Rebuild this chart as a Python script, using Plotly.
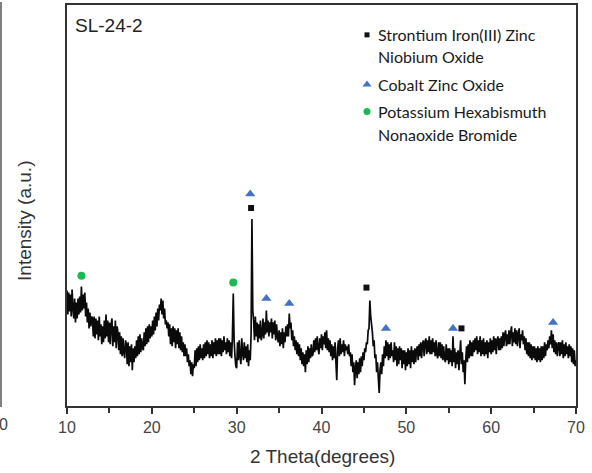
import numpy as np
import plotly.graph_objects as go

# XRD scan of sample SL-24-2, 2-theta from 10 to 70 deg in 0.1 deg steps
two_theta_start = 10.0
two_theta_step = 0.1
intensity = [
    116, 92, 114, 95, 112, 90, 117, 98, 88, 108,      # 10
    84, 104, 88, 108, 92, 110, 94, 120, 96, 112,      # 11
    98, 114, 90, 104, 84, 98, 78, 94, 80, 90,         # 12
    88, 70, 90, 68, 88, 72, 86, 66, 90, 70,           # 13
    82, 62, 80, 64, 86, 68, 92, 70, 86, 64,           # 14
    84, 62, 82, 88, 60, 80, 64, 86, 58, 80,           # 15
    74, 56, 74, 52, 70, 50, 68, 54, 48, 66,           # 16
    62, 42, 64, 40, 60, 44, 62, 36, 58, 44,           # 17
    60, 48, 66, 50, 70, 52, 72, 54, 68, 58,           # 18
    56, 74, 60, 78, 62, 80, 64, 82, 68, 80,           # 19
    70, 86, 72, 90, 76, 94, 80, 98, 86, 102,          # 20
    96, 108, 92, 106, 88, 98, 82, 86, 78, 84,         # 21
    70, 82, 62, 78, 60, 80, 64, 78, 58, 76,           # 22
    62, 78, 58, 74, 56, 70, 54, 64, 50, 62,           # 23
    50, 58, 44, 52, 40, 46, 32, 44, 30, 42,           # 24
    38, 56, 40, 58, 44, 60, 46, 62, 48, 58,           # 25
    46, 62, 48, 64, 50, 66, 52, 64, 48, 62,           # 26
    50, 66, 48, 64, 52, 68, 50, 66, 52, 68,           # 27
    52, 68, 50, 66, 54, 70, 56, 64, 52, 68,           # 28
    54, 66, 50, 64, 48, 70, 113, 66, 50, 40,          # 29
    38, 64, 46, 66, 50, 42, 68, 54, 46, 64,           # 30
    48, 60, 44, 62, 40, 56, 46, 72, 188, 96,          # 31
    86, 66, 90, 70, 84, 64, 82, 68, 86, 66,           # 32
    72, 88, 68, 84, 72, 96, 74, 86, 70, 84,           # 33
    74, 88, 68, 84, 72, 86, 66, 82, 70, 64,           # 34
    76, 60, 74, 62, 78, 58, 74, 64, 80, 70,           # 35
    82, 70, 93, 78, 84, 66, 76, 60, 70, 56,           # 36
    66, 52, 64, 50, 62, 46, 58, 42, 54, 40,           # 37
    52, 34, 56, 42, 60, 44, 58, 48, 62, 50,           # 38
    52, 66, 54, 68, 56, 70, 58, 52, 68, 58,           # 39
    72, 56, 70, 62, 74, 58, 76, 56, 68, 54,           # 40
    66, 50, 62, 46, 60, 48, 64, 44, 26, 58,           # 41
    66, 50, 68, 52, 62, 54, 66, 50, 62, 56,           # 42
    60, 52, 62, 50, 54, 40, 52, 34, 44, 21,           # 43
    38, 46, 28, 44, 32, 48, 34, 50, 40, 54,           # 44
    46, 58, 54, 64, 62, 76, 78, 106, 90, 82,          # 45
    74, 60, 66, 48, 52, 34, 44, 28, 13, 36,           # 46
    44, 32, 52, 40, 60, 48, 66, 50, 64, 46,           # 47
    62, 48, 64, 50, 56, 44, 64, 46, 60, 40,           # 48
    58, 42, 60, 46, 58, 38, 56, 42, 56, 36,           # 49
    54, 40, 58, 42, 56, 38, 60, 44, 56, 42,           # 50
    58, 44, 56, 60, 46, 62, 50, 64, 48, 62,           # 51
    66, 50, 64, 68, 52, 66, 54, 70, 52, 66,           # 52
    52, 68, 54, 64, 50, 66, 52, 48, 64, 50,           # 53
    64, 48, 62, 46, 60, 48, 44, 62, 46, 58,           # 54
    42, 58, 44, 56, 40, 70, 44, 58, 38, 54,           # 55
    42, 56, 36, 52, 66, 42, 54, 34, 46, 22,           # 56
    46, 60, 44, 62, 48, 66, 50, 64, 50, 66,           # 57
    54, 68, 56, 70, 52, 66, 54, 70, 50, 66,           # 58
    52, 68, 50, 64, 52, 66, 48, 64, 54, 68,           # 59
    52, 66, 54, 70, 56, 68, 52, 66, 70, 56,           # 60
    68, 56, 70, 58, 74, 60, 72, 76, 60, 72,           # 61
    62, 76, 62, 74, 80, 60, 74, 64, 78, 62,           # 62
    76, 60, 72, 78, 58, 72, 66, 76, 62, 70,           # 63
    56, 68, 52, 64, 50, 64, 48, 62, 46, 60,           # 64
    48, 60, 46, 58, 44, 60, 46, 58, 44, 60,           # 65
    46, 60, 48, 64, 50, 62, 56, 66, 58, 70,           # 66
    62, 76, 58, 72, 54, 66, 52, 64, 50, 62,           # 67
    64, 50, 64, 52, 66, 48, 62, 50, 64, 52,           # 68
    60, 48, 62, 50, 60, 44, 58, 42, 56, 40,           # 69
    46,                                                # 70
]
two_theta = two_theta_start + two_theta_step * np.arange(len(intensity))

# Phase identification markers (peak position, marker height)
srfezn_nb_oxide_pos = [31.7, 45.3, 56.5]
srfezn_nb_oxide_h = [199, 119, 78]
cobalt_zinc_oxide_pos = [31.6, 33.5, 36.2, 47.6, 55.5, 67.3]
cobalt_zinc_oxide_h = [213, 108, 103, 78, 78, 84]
k_bi6_bromide_pos = [11.7, 29.6]
k_bi6_bromide_h = [131, 124]

phase_names = [
    ["Strontium Iron(III) Zinc", "Niobium Oxide"],
    ["Cobalt Zinc Oxide"],
    ["Potassium Hexabismuth", "Nonaoxide Bromide"],
]
phase_symbols = ["square", "triangle-up", "circle"]
phase_colors = ["#111111", "#4472C4", "#1DB954"]
phase_sizes = [6, 9, 8]

x_ticks = [10, 20, 30, 40, 50, 60, 70]

W, H = 592, 473
L, R, T, B = 67, 16, 3, 67
pw, ph = W - L - R, H - T - B


def px(xp):
    return (xp - L) / pw


def py(yp):
    return (H - B - yp) / ph


fig = go.Figure()

fig.add_trace(go.Scatter(
    x=two_theta, y=intensity, mode="lines",
    line=dict(color="#0a0a0a", width=1.7, simplify=False),
    showlegend=False, hoverinfo="skip",
))

for pos, h, sym, col, sz in [
    (srfezn_nb_oxide_pos, srfezn_nb_oxide_h, phase_symbols[0], phase_colors[0], phase_sizes[0]),
    (cobalt_zinc_oxide_pos, cobalt_zinc_oxide_h, phase_symbols[1], phase_colors[1], phase_sizes[1]),
    (k_bi6_bromide_pos, k_bi6_bromide_h, phase_symbols[2], phase_colors[2], phase_sizes[2]),
]:
    fig.add_trace(go.Scatter(
        x=pos, y=h, mode="markers",
        marker=dict(symbol=sym, color=col, size=sz, line=dict(width=0)),
        showlegend=False, hoverinfo="skip",
    ))

# Legend keys drawn on an overlay axis that spans the plot area in [0, 1]
key_rows = [0, 1, 2]
key_y = [py(33), py(83), py(110)]
for i in key_rows:
    fig.add_trace(go.Scatter(
        x=[px(367)], y=[key_y[i]], mode="markers", xaxis="x2", yaxis="y2",
        marker=dict(symbol=phase_symbols[i], color=phase_colors[i],
                    size=phase_sizes[i] - 1, line=dict(width=0)),
        showlegend=False, hoverinfo="skip",
    ))

annotations = []
line_y = [[33, 55], [83], [110, 133]]
for names, ys in zip(phase_names, line_y):
    for name, yy in zip(names, ys):
        annotations.append(dict(
            x=px(376), y=py(yy), xref="paper", yref="paper", text=name,
            showarrow=False, xanchor="left", yanchor="middle",
            font=dict(family="Lato", size=16, color="#1a1a1a"),
        ))

annotations.append(dict(
    x=px(73), y=py(24), xref="paper", yref="paper", text="SL-24-2",
    showarrow=False, xanchor="left", yanchor="middle",
    font=dict(family="Liberation Sans, Arial", size=19, color="#222222"),
))
annotations.append(dict(
    x=px(25), y=py(220), xref="paper", yref="paper", text="Intensity (a.u.)",
    showarrow=False, textangle=-90, xanchor="center", yanchor="middle",
    font=dict(family="Liberation Sans, Arial", size=19, color="#333333"),
))
annotations.append(dict(
    x=px(322), y=py(457), xref="paper", yref="paper", text="2 Theta(degrees)",
    showarrow=False, xanchor="center", yanchor="middle",
    font=dict(family="Liberation Sans, Arial", size=19, color="#333333"),
))
# edge of the neighbouring panel
annotations.append(dict(
    x=px(10), y=py(425), xref="paper", yref="paper", text="0",
    showarrow=False, xanchor="right", yanchor="middle",
    font=dict(family="Liberation Sans, Arial", size=16, color="#444444"),
))

shapes = [dict(
    type="line", xref="paper", yref="paper",
    x0=px(1), x1=px(1), y0=py(407), y1=py(0),
    line=dict(color="#555555", width=1.5),
)]

fig.update_layout(
    width=W, height=H,
    margin=dict(l=L, r=R, t=T, b=B, pad=0),
    paper_bgcolor="white", plot_bgcolor="white",
    xaxis=dict(
        range=[10, 70], tickvals=x_ticks, ticks="outside", ticklen=6, tickwidth=1.5,
        tickcolor="#333333", showline=True, linecolor="#333333", linewidth=1.5,
        mirror=True, showgrid=False, zeroline=False,
        tickfont=dict(family="Liberation Sans, Arial", size=16, color="#444444"),
        minor=dict(dtick=5, ticks="outside", ticklen=5, tickwidth=1.5, tickcolor="#333333"),
    ),
    yaxis=dict(
        range=[0, ph], showticklabels=False, ticks="", showline=True,
        linecolor="#333333", linewidth=1.5, mirror=True, showgrid=False, zeroline=False,
    ),
    xaxis2=dict(range=[0, 1], overlaying="x", visible=False, fixedrange=True),
    yaxis2=dict(range=[0, 1], overlaying="y", visible=False, fixedrange=True),
    annotations=annotations,
    shapes=shapes,
    showlegend=False,
)

fig.write_html("out.html")
